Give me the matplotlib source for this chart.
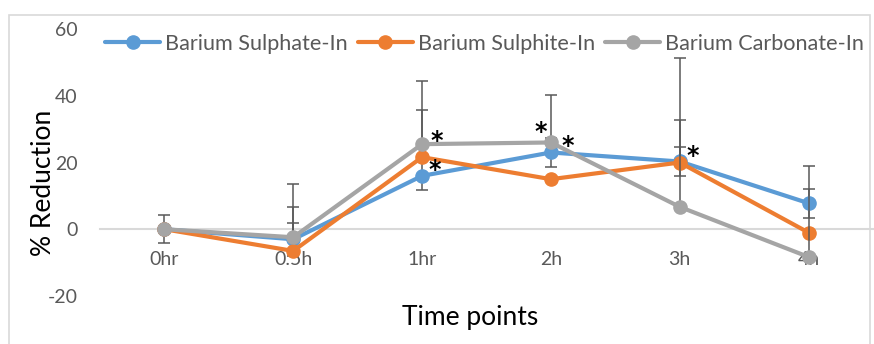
import matplotlib
matplotlib.use("Agg")
import matplotlib.pyplot as plt
from matplotlib.patches import Rectangle

plt.rcParams['font.family'] = ['Lato', 'DejaVu Sans']
plt.rcParams['axes.unicode_minus'] = False

times = ['0hr', '0.5h', '1hr', '2h', '3h', '4h']
sulphate = [0, -3, 16, 23, 20.3, 7.8]
sulphite = [0, -6.5, 21.6, 15, 20, -1]
carbonate = [0, -2.4, 25.5, 26, 6.7, -8.3]

sulphate_err = [4.2, 4.9, 4.3, 4.2, 4.3, 4.4]
sulphite_err_up = [0, 13.2, 14.1, 0, 12.7, 0]
carbonate_err_up = [0, 16.1, 18.9, 14.2, 44.6, 27.3]

star_x = [2.11, 2.10, 2.92, 3.13, 4.10]
star_y = [28.2, 19.5, 30.7, 26.5, 23.7]

names = ['Barium Sulphate-In', 'Barium Sulphite-In', 'Barium Carbonate-In']
colors = ['#5B9BD5', '#ED7D31', '#A5A5A5']
grey_txt = '#595959'

W, H = 874, 344
fig = plt.figure(figsize=(W / 100, H / 100), dpi=100)
ax = fig.add_axes([100 / W, 1 - 296 / H, 773 / W, (296 - 29) / H])

x = list(range(len(times)))
series = [sulphate, sulphite, carbonate]
errs = [
    [sulphate_err, sulphate_err],
    [[0] * len(times), sulphite_err_up],
    [[0] * len(times), carbonate_err_up],
]
handles = []
for i, (ys, e) in enumerate(zip(series, errs)):
    ax.errorbar(x, ys, yerr=e, fmt='none', ecolor=grey_txt, elinewidth=1.1,
                capsize=4.5, capthick=1.1, zorder=2 + i)
    h, = ax.plot(x, ys, color=colors[i], lw=3, marker='o', ms=9.5,
                 label=names[i], zorder=2.5 + i, solid_capstyle='round')
    handles.append(h)

for sx, sy in zip(star_x, star_y):
    ax.annotate('*', (sx, sy), xytext=(0, -4), textcoords='offset points',
                ha='center', va='center', fontsize=17, fontweight='bold',
                family='DejaVu Sans', color='black', zorder=10)

ax.set_xlim(-0.5, 5.5)
ax.set_ylim(-20, 60)
ax.set_yticks([-20, 0, 20, 40, 60])
ax.set_xticks(x)
ax.set_xticklabels(times)
for s in ['top', 'right', 'left']:
    ax.spines[s].set_visible(False)
ax.spines['bottom'].set_position(('data', 0))
ax.spines['bottom'].set_color('#D9D9D9')
ax.spines['bottom'].set_linewidth(1.5)
ax.spines['bottom'].set_zorder(1)
ax.tick_params(axis='both', length=0, labelsize=14, labelcolor=grey_txt)
ax.tick_params(axis='x', pad=16)
ax.tick_params(axis='y', pad=16)
ax.patch.set_alpha(0)

fig.text(470 / W, 1 - 317 / H, 'Time points', ha='center', va='center',
         fontsize=19, color='black')
fig.text(44 / W, 1 - 183 / H, '% Reduction', ha='center', va='center',
         rotation=90, fontsize=19, color='black')

leg = fig.legend(handles=handles, loc='center left',
                 bbox_to_anchor=(105 / W, 1 - 44 / H), ncol=3, frameon=False,
                 fontsize=15.6, borderpad=0, handlelength=2.55,
                 handletextpad=0.23, columnspacing=0.46, borderaxespad=0)
for t in leg.get_texts():
    t.set_color(grey_txt)

fig.patches.append(Rectangle((9 / W, -0.1), (870 - 9) / W, 1.1 - 15 / H,
                             transform=fig.transFigure, fill=False,
                             edgecolor='#D9D9D9', lw=1.2))

fig.savefig('out.png', dpi=100)
